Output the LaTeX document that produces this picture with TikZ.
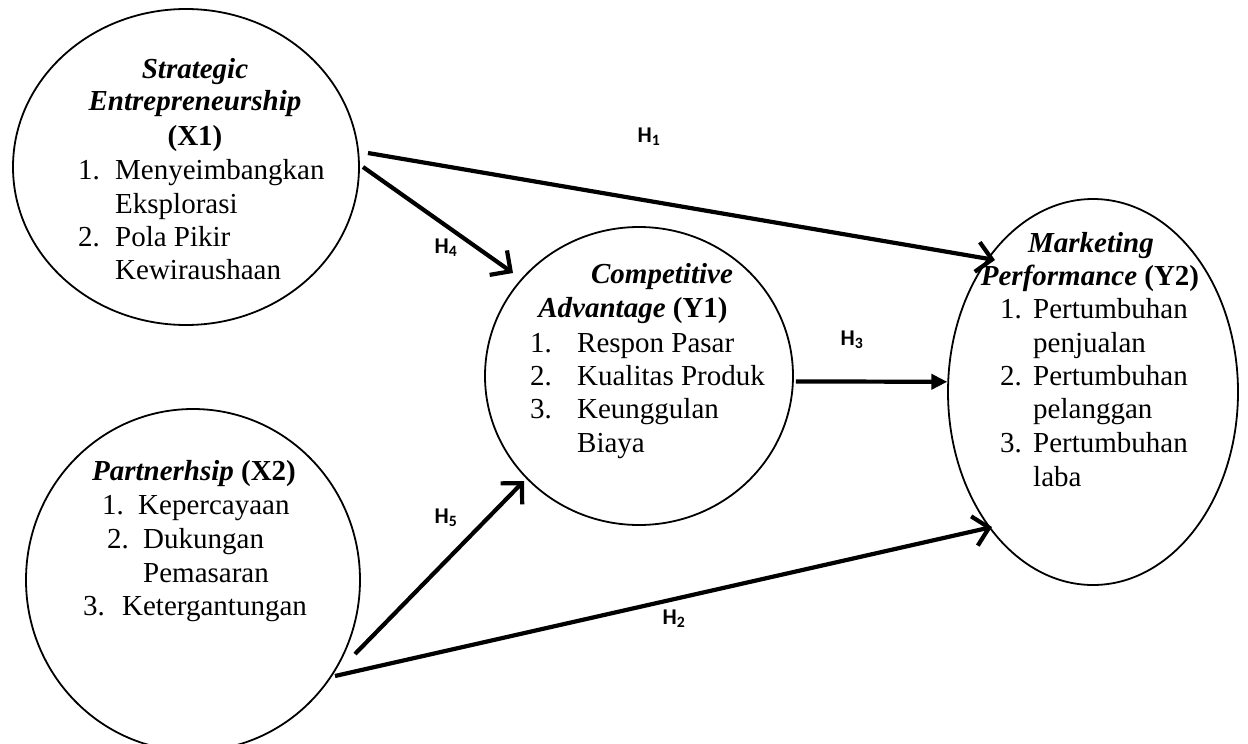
\documentclass[tikz,border=0pt]{standalone}
\usepackage{fontspec}
\setmainfont{Liberation Serif}
\newfontfamily\labfont{Carlito}
\usetikzlibrary{arrows.meta,shapes.geometric}
\begin{document}
\begin{tikzpicture}[x=1pt,y=-1pt,
  latent/.style={draw, line width=1.8pt, ellipse, inner sep=0pt},
  txt/.style={inner sep=0pt, font=\fontsize{29}{33.5}\selectfont},
  tl/.style={txt, anchor=base west},
  tc/.style={txt, anchor=base},
  lab/.style={inner sep=0pt, font=\labfont\bfseries\fontsize{22.5}{26}\selectfont},
  hyp/.style={line width=4.2pt, -{Straight Barb[length=15pt,width=30pt,line width=4.2pt]}},
  hypf/.style={line width=4.2pt, -{Triangle[length=16pt,width=15pt]}}]
\useasboundingbox (0,0) rectangle (1248,744);
% latent variables
\node[latent, minimum width=346pt, minimum height=316pt] (x1) at (186,167) {};
\node[latent, minimum width=334pt, minimum height=342pt] (x2) at (193,580) {};
\node[latent, minimum width=308pt, minimum height=298pt] (y1) at (639,376) {};
\node[latent, minimum width=290pt, minimum height=386pt] (y2) at (1093,392) {};
% X1 text
\node[tc] (x1a) at (195,78) {\textbf{\textit{Strategic}}};
\node[tc] (x1b) at (195,110) {\textbf{\textit{Entrepreneurship}}};
\node[tc] (x1c) at (195,145) {\textbf{(X1)}};
\node[tl] (x1d) at (78,179) {\makebox[37pt][l]{1.}Menyeimbangkan};
\node[tl] (x1e) at (115,213) {Eksplorasi};
\node[tl] (x1f) at (78,246) {\makebox[37pt][l]{2.}Pola Pikir};
\node[tl] (x1g) at (115,279) {Kewiraushaan};
% X2 text
\node[tc] (x2a) at (194,480) {\textbf{\textit{Partnerhsip}} \textbf{(X2)}};
\node[tl] (x2b) at (102,514) {\makebox[36pt][l]{1.}Kepercayaan};
\node[tl] (x2c) at (107,548) {\makebox[36pt][l]{2.}Dukungan};
\node[tl] (x2d) at (143,582) {Pemasaran};
\node[tl] (x2e) at (83,615) {\makebox[39pt][l]{3.}Ketergantungan};
% Y1 text
\node[tc] (y1a) at (662,283) {\textbf{\textit{Competitive}}};
\node[tc] (y1b) at (633,317) {\textbf{\textit{Advantage}} \textbf{(Y1)}};
\node[tl] (y1c) at (530,352) {\makebox[47pt][l]{1.}Respon Pasar};
\node[tl] (y1d) at (530,385) {\makebox[47pt][l]{2.}Kualitas Produk};
\node[tl] (y1e) at (530,418) {\makebox[47pt][l]{3.}Keunggulan};
\node[tl] (y1f) at (577,452) {Biaya};
% Y2 text
\node[tc] (y2a) at (1091,252) {\textbf{\textit{Marketing}}};
\node[tc] (y2b) at (1090,285) {\textbf{\textit{Performance}} \textbf{(Y2)}};
\node[tl] (y2c) at (1000,318) {\makebox[33pt][l]{1.}Pertumbuhan};
\node[tl] (y2d) at (1033,352) {penjualan};
\node[tl] (y2e) at (1000,385) {\makebox[33pt][l]{2.}Pertumbuhan};
\node[tl] (y2f) at (1033,418) {pelanggan};
\node[tl] (y2g) at (1000,452) {\makebox[33pt][l]{3.}Pertumbuhan};
\node[tl] (y2h) at (1033,486) {laba};
% connector end points
\coordinate (h1s) at (368,153);
\coordinate (h1e) at (995,260);
\coordinate (h4s) at (363,167);
\coordinate (h4e) at (513,273);
\coordinate (h5s) at (355,654);
\coordinate (h5e) at (524,481);
\coordinate (h2s) at (335,676);
\coordinate (h2e) at (992,527);
% connectors
\draw[hyp] (h1s) -- (h1e);
\draw[hyp] (h4s) -- (h4e);
\draw[hypf, shorten <=2pt] (y1.-2.2) -- (y2.176.05);
\draw[hyp] (h5s) -- (h5e);
\draw[hyp] (h2s) -- (h2e);
% labels
\node[lab] (l1) at (649,137) {H\textsubscript{1}};
\node[lab] (l4) at (446,248) {H\textsubscript{4}};
\node[lab] (l3) at (852,340) {H\textsubscript{3}};
\node[lab] (l5) at (446,518) {H\textsubscript{5}};
\node[lab] (l2) at (674,619) {H\textsubscript{2}};
\end{tikzpicture}
\end{document}
